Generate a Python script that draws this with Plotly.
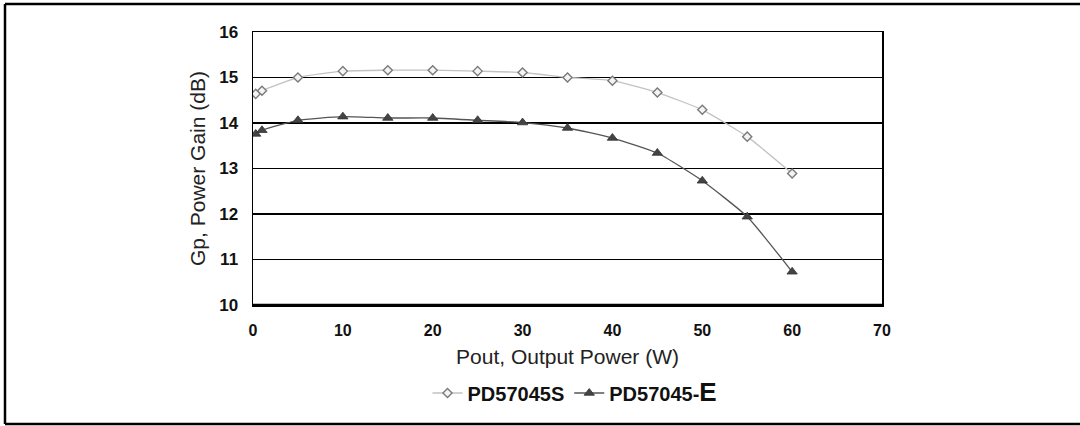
import plotly.graph_objects as go

pout_s = [0.3, 1, 5, 10, 15, 20, 25, 30, 35, 40, 45, 50, 55, 60]
gain_s = [14.64, 14.71, 15.0, 15.14, 15.16, 15.16, 15.14, 15.11, 15.0, 14.93, 14.67, 14.29, 13.70, 12.89]
pout_e = [0.3, 1, 5, 10, 15, 20, 25, 30, 35, 40, 45, 50, 55, 60]
gain_e = [13.76, 13.84, 14.06, 14.14, 14.11, 14.11, 14.06, 14.01, 13.89, 13.67, 13.34, 12.73, 11.94, 10.73]

x_ticks = [0, 10, 20, 30, 40, 50, 60, 70]
y_ticks = [10, 11, 12, 13, 14, 15, 16]

FONT = "Liberation Sans, Arial, sans-serif"

# plot area in page pixels
PL, PR, PT, PB = 253, 882, 32, 305
W, H = 1080, 426

fig = go.Figure()
fig.add_trace(go.Scatter(
    x=pout_s, y=gain_s, name="<b>PD57045S</b>", mode="lines+markers",
    line=dict(color="#c2c2c2", width=1.3, shape="spline", smoothing=0.5),
    marker=dict(symbol="diamond", size=7, color="#f4f4f4", line=dict(color="#7a7a7a", width=1.4)),
))
fig.add_trace(go.Scatter(
    x=pout_e, y=gain_e, name="<b>PD57045-<span style='font-size:26px'>E</span></b>", mode="lines+markers",
    line=dict(color="#555555", width=1.3, shape="spline", smoothing=0.5),
    marker=dict(symbol="triangle-up", size=9, color="#444444", line=dict(color="#333333", width=0.8)),
))

fig.update_layout(
    width=W, height=H,
    margin=dict(l=PL, r=W - PR, t=PT, b=H - PB),
    paper_bgcolor="white", plot_bgcolor="white",
    font=dict(family=FONT, color="#111111"),
    showlegend=True,
    hovermode=False,
    legend=dict(orientation="h", x=(575 - PL) / (PR - PL), xanchor="center",
                y=-(393 - PB) / (PB - PT), yanchor="middle",
                font=dict(size=20, family=FONT, color="#111111"), itemwidth=30,
                bgcolor="rgba(0,0,0,0)"),
    xaxis=dict(range=[0, 70], tickvals=x_ticks, ticktext=[str(v) for v in x_ticks],
               showgrid=False, zeroline=False, showline=True, linecolor="black", linewidth=1.5,
               mirror=True, ticks="", tickfont=dict(size=16, family=FONT, color="#111111", weight="bold"),
               ticklabelstandoff=10,
               title=dict(text="Pout, Output Power (W)", font=dict(size=21, family=FONT, color="#222222"), standoff=11)),
    yaxis=dict(range=[10, 16], tickvals=y_ticks, ticktext=[str(v) for v in y_ticks],
               showgrid=True, gridcolor="black", gridwidth=1.5, zeroline=False,
               showline=True, linecolor="black", linewidth=1.5, mirror=True, ticks="",
               tickfont=dict(size=17, family=FONT, color="#111111", weight="bold"),
               ticklabelstandoff=10,
               title=dict(text="Gp, Power Gain (dB)", font=dict(size=21, family=FONT, color="#222222"), standoff=8)),
)

# thicker bottom axis line
fig.add_shape(type="line", xref="paper", yref="paper", x0=0, x1=1, y0=0, y1=0,
              line=dict(color="black", width=2.5))
# outer frame of the figure: left, top and bottom edges (right edge is cut off in the original)
fx0 = (5 - PL) / (PR - PL)
fx1 = (1080 - PL) / (PR - PL)
fy0 = (PB - 424) / (PB - PT)
fy1 = (PB - 4) / (PB - PT)
frame = dict(color="black", width=2.5)
fig.add_shape(type="line", xref="paper", yref="paper", x0=fx0, x1=fx0, y0=fy0, y1=fy1, line=frame, layer="below")
fig.add_shape(type="line", xref="paper", yref="paper", x0=fx0, x1=fx1, y0=fy1, y1=fy1, line=frame, layer="below")
fig.add_shape(type="line", xref="paper", yref="paper", x0=fx0, x1=fx1, y0=fy0, y1=fy0, line=frame, layer="below")

fig.write_html("out.html", config={"displayModeBar": False, "staticPlot": True},
               post_script="document.body.style.margin='0';document.body.style.overflow='hidden';")
